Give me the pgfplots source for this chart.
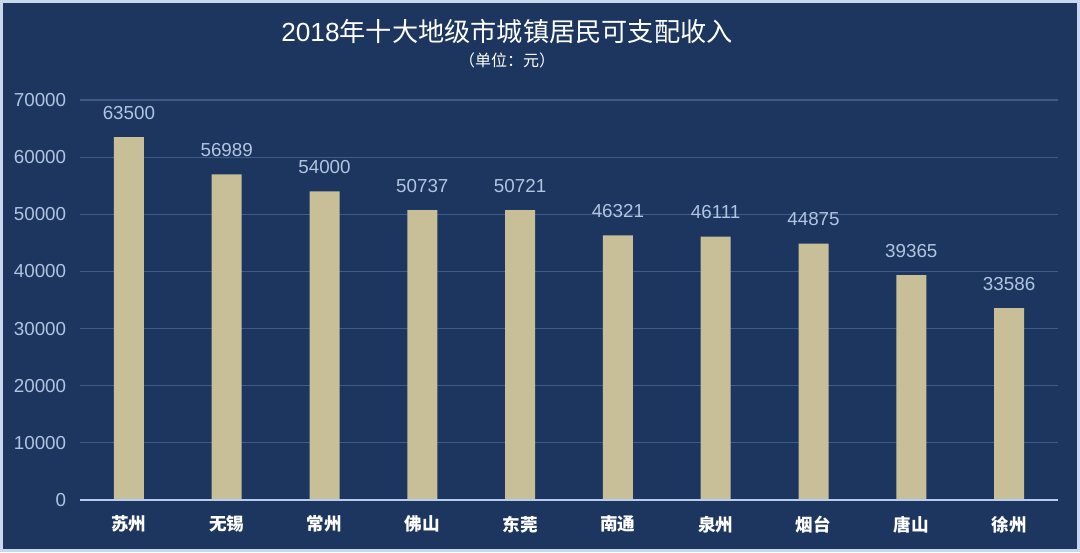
\documentclass[border=0pt]{standalone}
\usepackage{fontspec}
\setmainfont{Liberation Sans}
\newfontfamily\cjk{Noto Sans CJK SC}
\usepackage{pgfplots}
\pgfplotsset{compat=1.18}
\usetikzlibrary{backgrounds}
\definecolor{bg}{HTML}{1C365F}
\definecolor{barc}{HTML}{C8BE98}
\definecolor{tickc}{HTML}{B2C5E0}
\definecolor{gridc}{HTML}{3F5C86}
\definecolor{zeroc}{HTML}{B8CDEE}
\definecolor{framec}{HTML}{C9D8EC}
\begin{document}
\begin{tikzpicture}
\begin{axis}[
  scale only axis, width=489pt, height=200pt,
  xmin=-0.5, xmax=9.5, ymin=0, ymax=70000,
  ybar, bar width=15pt,
  axis line style={draw=none},
  major tick length=0pt, tick style={draw=none},
  ytick={0,10000,...,70000},
  ymajorgrids, grid style={gridc, line width=0.6pt},
  scaled y ticks=false,
  /pgf/number format/1000 sep={},
  /pgf/number format/assume math mode=true,
  yticklabel style={tickc, font=\fontsize{9.4}{11}\selectfont, xshift=-3.4pt},
  xtick=data,
  xticklabels={苏州,无锡,常州,佛山,东莞,南通,泉州,烟台,唐山,徐州},
  xticklabel style={white, font=\cjk\bfseries\fontsize{8.8}{11}\selectfont, yshift=-4.4pt},
  nodes near coords,
  nodes near coords style={tickc, font=\fontsize{9.4}{11}\selectfont, anchor=south, inner sep=0pt, yshift=8.5pt},
]
\addplot[fill=barc, draw=none] coordinates {
  (0,63500) (1,56989) (2,54000) (3,50737) (4,50721)
  (5,46321) (6,46111) (7,44875) (8,39365) (9,33586)
};
\draw[zeroc, line width=1pt] (axis cs:-0.5,0) -- (axis cs:9.5,0);
\end{axis}
\node[white, font=\fontsize{13.1}{16}\selectfont] at ([shift={(213.5pt,234pt)}]current axis.south west) {2018{\cjk 年十大地级市城镇居民可支配收入}};
\node[white, font=\cjk\fontsize{8}{10}\selectfont] at ([shift={(213.5pt,220pt)}]current axis.south west) {（单位：元）};
\begin{scope}[on background layer]
\useasboundingbox ([shift={(-40pt,-26pt)}]current axis.south west) rectangle ([shift={(500pt,250pt)}]current axis.south west);
\fill[bg] ([shift={(-40pt,-26pt)}]current axis.south west) rectangle ([shift={(500pt,250pt)}]current axis.south west);
\draw[framec, line width=1.5pt] ([shift={(-39.25pt,-25.25pt)}]current axis.south west) rectangle ([shift={(499.25pt,249.25pt)}]current axis.south west);
\end{scope}
\end{tikzpicture}
\end{document}
